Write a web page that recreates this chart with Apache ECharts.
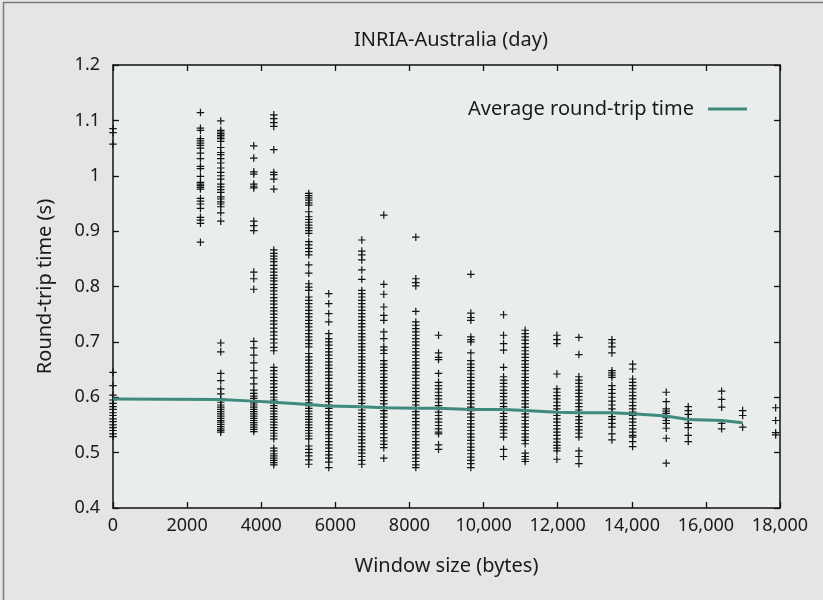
<!DOCTYPE html>
<html>
<head>
<meta charset="utf-8">
<script src="https://cdn.jsdelivr.net/npm/echarts@6/dist/echarts.min.js"></script>
<style>
html,body{margin:0;padding:0;background:#e5e5e5;}
#chart{width:823px;height:600px;}
</style>
</head>
<body>
<div id="chart"></div>
<script>
// Window sizes (bytes) of each column of samples
const colX = [0, 2360, 2908, 3799, 4339, 5283, 5823, 6714, 7308, 8172, 8785, 9657, 10540, 11123, 11979, 12573, 13464, 14023, 14930, 15524, 16425, 16992, 17883];
// Round-trip time samples (s) for each column
const c0 = [1.085, 1.078, 1.057, 0.645, 0.621, 0.604, 0.595, 0.589, 0.583, 0.578, 0.572, 0.567, 0.561, 0.556, 0.550, 0.545, 0.540, 0.534, 0.529];
const c2360 = [1.114, 1.086, 1.082, 1.067, 1.063, 1.059, 1.055, 1.050, 1.041, 1.031, 1.017, 1.013, 0.999, 0.988, 0.985, 0.982, 0.979, 0.976, 0.959, 0.954, 0.949, 0.941, 0.925, 0.920, 0.914, 0.880];
const c2908 = [1.099, 1.082, 1.079, 1.076, 1.073, 1.070, 1.067, 1.062, 1.051, 1.042, 1.038, 1.031, 1.023, 1.014, 1.006, 1.000, 0.994, 0.985, 0.980, 0.975, 0.970, 0.962, 0.958, 0.953, 0.949, 0.944, 0.933, 0.918, 0.698, 0.682, 0.643, 0.630, 0.615, 0.606, 0.597, 0.591, 0.586, 0.582, 0.578, 0.574, 0.570, 0.566, 0.562, 0.558, 0.555, 0.551, 0.547, 0.543, 0.540, 0.537];
const c3799 = [1.054, 1.032, 1.007, 1.003, 0.985, 0.981, 0.978, 0.918, 0.910, 0.901, 0.826, 0.814, 0.795, 0.701, 0.689, 0.676, 0.662, 0.648, 0.635, 0.624, 0.613, 0.607, 0.602, 0.598, 0.594, 0.590, 0.586, 0.582, 0.578, 0.574, 0.570, 0.566, 0.562, 0.558, 0.554, 0.550, 0.546, 0.542, 0.538];
const c4339 = [1.110, 1.103, 1.096, 1.089, 1.047, 1.006, 1.002, 0.994, 0.976, 0.866, 0.860, 0.855, 0.850, 0.845, 0.838, 0.832, 0.826, 0.820, 0.815, 0.810, 0.804, 0.798, 0.792, 0.786, 0.780, 0.774, 0.768, 0.762, 0.756, 0.750, 0.744, 0.738, 0.732, 0.725, 0.718, 0.712, 0.705, 0.698, 0.690, 0.684, 0.654, 0.648, 0.642, 0.636, 0.630, 0.624, 0.618, 0.612, 0.606, 0.600, 0.595, 0.590, 0.585, 0.580, 0.575, 0.570, 0.565, 0.560, 0.555, 0.550, 0.545, 0.540, 0.535, 0.530, 0.525, 0.508, 0.503, 0.498, 0.494, 0.490, 0.486, 0.482, 0.478];
const c5283 = [0.968, 0.964, 0.960, 0.956, 0.951, 0.947, 0.935, 0.926, 0.921, 0.916, 0.911, 0.906, 0.901, 0.896, 0.881, 0.875, 0.869, 0.863, 0.857, 0.839, 0.824, 0.805, 0.799, 0.793, 0.781, 0.775, 0.769, 0.763, 0.757, 0.751, 0.745, 0.739, 0.733, 0.727, 0.721, 0.715, 0.709, 0.703, 0.697, 0.691, 0.679, 0.673, 0.667, 0.661, 0.655, 0.649, 0.643, 0.637, 0.631, 0.625, 0.619, 0.613, 0.607, 0.601, 0.595, 0.590, 0.585, 0.580, 0.575, 0.570, 0.565, 0.560, 0.555, 0.550, 0.545, 0.540, 0.535, 0.530, 0.525, 0.512, 0.506, 0.500, 0.494, 0.487, 0.479];
const c5823 = [0.787, 0.769, 0.751, 0.736, 0.715, 0.706, 0.700, 0.694, 0.688, 0.682, 0.676, 0.670, 0.664, 0.658, 0.652, 0.646, 0.640, 0.634, 0.628, 0.622, 0.616, 0.610, 0.604, 0.598, 0.592, 0.586, 0.580, 0.574, 0.568, 0.562, 0.556, 0.550, 0.544, 0.538, 0.532, 0.526, 0.520, 0.514, 0.508, 0.502, 0.496, 0.490, 0.483, 0.473];
const c6714 = [0.884, 0.864, 0.857, 0.848, 0.830, 0.813, 0.793, 0.787, 0.781, 0.775, 0.769, 0.763, 0.757, 0.751, 0.745, 0.739, 0.733, 0.727, 0.721, 0.715, 0.709, 0.703, 0.697, 0.691, 0.685, 0.679, 0.673, 0.667, 0.661, 0.655, 0.649, 0.643, 0.637, 0.631, 0.625, 0.619, 0.613, 0.607, 0.601, 0.595, 0.589, 0.583, 0.577, 0.571, 0.565, 0.559, 0.553, 0.547, 0.541, 0.535, 0.529, 0.523, 0.517, 0.511, 0.505, 0.499, 0.493, 0.486, 0.479];
const c7308 = [0.929, 0.804, 0.786, 0.763, 0.748, 0.739, 0.718, 0.706, 0.691, 0.685, 0.679, 0.666, 0.660, 0.654, 0.648, 0.642, 0.636, 0.630, 0.624, 0.618, 0.612, 0.606, 0.600, 0.594, 0.588, 0.582, 0.576, 0.570, 0.564, 0.558, 0.552, 0.546, 0.540, 0.534, 0.527, 0.521, 0.515, 0.509, 0.490];
const c8172 = [0.889, 0.814, 0.807, 0.801, 0.755, 0.736, 0.730, 0.724, 0.718, 0.712, 0.706, 0.700, 0.694, 0.688, 0.682, 0.676, 0.670, 0.664, 0.658, 0.652, 0.646, 0.640, 0.634, 0.628, 0.622, 0.616, 0.610, 0.604, 0.598, 0.592, 0.586, 0.580, 0.574, 0.568, 0.562, 0.556, 0.550, 0.544, 0.538, 0.532, 0.526, 0.520, 0.514, 0.508, 0.502, 0.496, 0.490, 0.484, 0.478, 0.473];
const c8785 = [0.712, 0.680, 0.672, 0.668, 0.643, 0.627, 0.621, 0.615, 0.609, 0.603, 0.597, 0.591, 0.585, 0.579, 0.573, 0.567, 0.561, 0.555, 0.549, 0.543, 0.537, 0.534, 0.514, 0.506];
const c9657 = [0.822, 0.752, 0.744, 0.739, 0.709, 0.704, 0.700, 0.680, 0.666, 0.660, 0.654, 0.648, 0.642, 0.636, 0.630, 0.624, 0.618, 0.612, 0.606, 0.600, 0.594, 0.588, 0.582, 0.576, 0.570, 0.564, 0.558, 0.552, 0.546, 0.540, 0.534, 0.528, 0.522, 0.516, 0.510, 0.504, 0.498, 0.492, 0.486, 0.480, 0.473];
const c10540 = [0.749, 0.712, 0.697, 0.685, 0.654, 0.637, 0.631, 0.625, 0.619, 0.613, 0.607, 0.601, 0.595, 0.589, 0.583, 0.577, 0.571, 0.565, 0.559, 0.553, 0.547, 0.541, 0.535, 0.528, 0.506, 0.493];
const c11123 = [0.721, 0.715, 0.709, 0.703, 0.697, 0.690, 0.684, 0.678, 0.672, 0.666, 0.660, 0.654, 0.648, 0.642, 0.636, 0.630, 0.624, 0.618, 0.612, 0.606, 0.600, 0.594, 0.588, 0.582, 0.576, 0.570, 0.564, 0.558, 0.552, 0.546, 0.540, 0.534, 0.528, 0.522, 0.516, 0.499, 0.493, 0.488, 0.484];
const c11979 = [0.712, 0.704, 0.697, 0.642, 0.615, 0.609, 0.603, 0.597, 0.591, 0.585, 0.579, 0.573, 0.567, 0.561, 0.555, 0.549, 0.543, 0.537, 0.531, 0.525, 0.519, 0.513, 0.508, 0.503, 0.488];
const c12573 = [0.708, 0.677, 0.637, 0.631, 0.625, 0.619, 0.613, 0.607, 0.601, 0.595, 0.589, 0.583, 0.577, 0.571, 0.565, 0.559, 0.553, 0.547, 0.541, 0.535, 0.528, 0.503, 0.493, 0.480];
const c13464 = [0.704, 0.698, 0.691, 0.680, 0.648, 0.644, 0.640, 0.636, 0.621, 0.614, 0.607, 0.600, 0.593, 0.586, 0.579, 0.572, 0.565, 0.560, 0.553, 0.546, 0.534, 0.523];
const c14023 = [0.660, 0.651, 0.633, 0.627, 0.621, 0.615, 0.609, 0.603, 0.597, 0.591, 0.585, 0.579, 0.573, 0.567, 0.561, 0.555, 0.549, 0.543, 0.537, 0.531, 0.528, 0.520, 0.511];
const c14930 = [0.609, 0.592, 0.579, 0.575, 0.571, 0.567, 0.563, 0.558, 0.553, 0.544, 0.526, 0.481];
const c15524 = [0.583, 0.576, 0.569, 0.561, 0.553, 0.545, 0.531, 0.520];
const c16425 = [0.611, 0.596, 0.582, 0.553, 0.543];
const c16992 = [0.576, 0.567, 0.546];
const c17883 = [0.581, 0.558, 0.536, 0.532];
const colY = [c0, c2360, c2908, c3799, c4339, c5283, c5823, c6714, c7308, c8172, c8785, c9657, c10540, c11123, c11979, c12573, c13464, c14023, c14930, c15524, c16425, c16992, c17883];

// Average round-trip time line
const avgX = [0, 2908, 3799, 4339, 5283, 5823, 6714, 7308, 8172, 8785, 9657, 10540, 11123, 11979, 12573, 13464, 14023, 14930, 15524, 16425, 16992];
const avgY = [0.597, 0.596, 0.593, 0.591, 0.587, 0.584, 0.583, 0.581, 0.580, 0.580, 0.578, 0.578, 0.576, 0.573, 0.572, 0.572, 0.570, 0.566, 0.560, 0.558, 0.554];

// Tick labels
const xTickLabels = ['0', '2000', '4000', '6000', '8000', '10,000', '12,000', '14,000', '16,000', '18,000'];
const yTickLabels = ['0.4', '0.5', '0.6', '0.7', '0.8', '0.9', '1', '1.1', '1.2'];

const scatterData = [];
colX.forEach((x, i) => colY[i].forEach(y => scatterData.push([x, y])));
const lineData = avgX.map((x, i) => [x, avgY[i]]);

const FONT = 'Noto Sans';
const PLUS = 'path://M0,4.2H10V5.8H0Z M4.2,0H5.8V10H4.2Z';

const chart = echarts.init(document.getElementById('chart'), null, {renderer: 'canvas'});
const tickStyle = {show: true, inside: true, length: 6, lineStyle: {color: '#111', width: 1.3}};
const axLine = {show: true, onZero: false, lineStyle: {color: '#111', width: 1.5}};
chart.setOption({
  backgroundColor: '#e5e5e5',
  animation: false,
  textStyle: {fontFamily: FONT},
  title: {
    text: 'INRIA-Australia (day)',
    left: 446, top: 25, textAlign: 'center',
    textStyle: {fontFamily: FONT, fontSize: 20, fontWeight: 'normal', color: '#1a1a1a'}
  },
  legend: {
    data: ['Average round-trip time'],
    right: 76, top: 99, align: 'right', padding: 0,
    icon: 'rect', itemWidth: 39, itemHeight: 3,
    textStyle: {fontFamily: FONT, fontSize: 20, color: '#1a1a1a', padding: [0, 9, 0, 0]}
  },
  grid: {left: 113, top: 65, width: 667, height: 443, show: true, backgroundColor: '#e9edec', borderWidth: 0},
  xAxis: [{
    type: 'value', min: 0, max: 18000, interval: 2000, position: 'bottom',
    name: 'Window size (bytes)', nameLocation: 'middle', nameGap: 48,
    nameTextStyle: {fontFamily: FONT, fontSize: 20, color: '#1a1a1a'},
    axisLine: axLine, axisTick: tickStyle, splitLine: {show: false},
    axisLabel: {margin: 9, fontFamily: FONT, fontSize: 18, color: '#1a1a1a',
      formatter: v => xTickLabels[Math.round(v / 2000)]}
  }, {
    type: 'value', min: 0, max: 18000, interval: 2000, position: 'top',
    axisLine: axLine, axisTick: tickStyle, splitLine: {show: false}, axisLabel: {show: false}
  }],
  yAxis: [{
    type: 'value', min: 0.4, max: 1.2, interval: 0.1, position: 'left',
    name: 'Round-trip time (s)', nameLocation: 'middle', nameGap: 58,
    nameTextStyle: {fontFamily: FONT, fontSize: 20, color: '#1a1a1a'},
    axisLine: axLine, axisTick: tickStyle, splitLine: {show: false},
    axisLabel: {margin: 13, fontFamily: FONT, fontSize: 18, color: '#1a1a1a',
      formatter: v => yTickLabels[Math.round((v - 0.4) * 10)]}
  }, {
    type: 'value', min: 0.4, max: 1.2, interval: 0.1, position: 'right',
    axisLine: axLine, axisTick: tickStyle, splitLine: {show: false}, axisLabel: {show: false}
  }],
  graphic: [
    {type: 'line', shape: {x1: 3.5, y1: 2, x2: 3.5, y2: 600}, style: {stroke: '#7a7a7a', lineWidth: 1.5}, silent: true},
    {type: 'line', shape: {x1: 3, y1: 2.5, x2: 823, y2: 2.5}, style: {stroke: '#7a7a7a', lineWidth: 1.5}, silent: true}
  ],
  series: [{
    name: 'Samples', type: 'scatter', data: scatterData,
    symbol: PLUS, symbolSize: 7.5, itemStyle: {color: '#141414', opacity: 1}, z: 2,
    emphasis: {disabled: true}
  }, {
    name: 'Average round-trip time', type: 'line', data: lineData,
    showSymbol: false, symbol: 'none', smooth: false,
    lineStyle: {color: '#3f8a7c', width: 3}, itemStyle: {color: '#3f8a7c'}, z: 3
  }]
});
</script>
</body>
</html>
